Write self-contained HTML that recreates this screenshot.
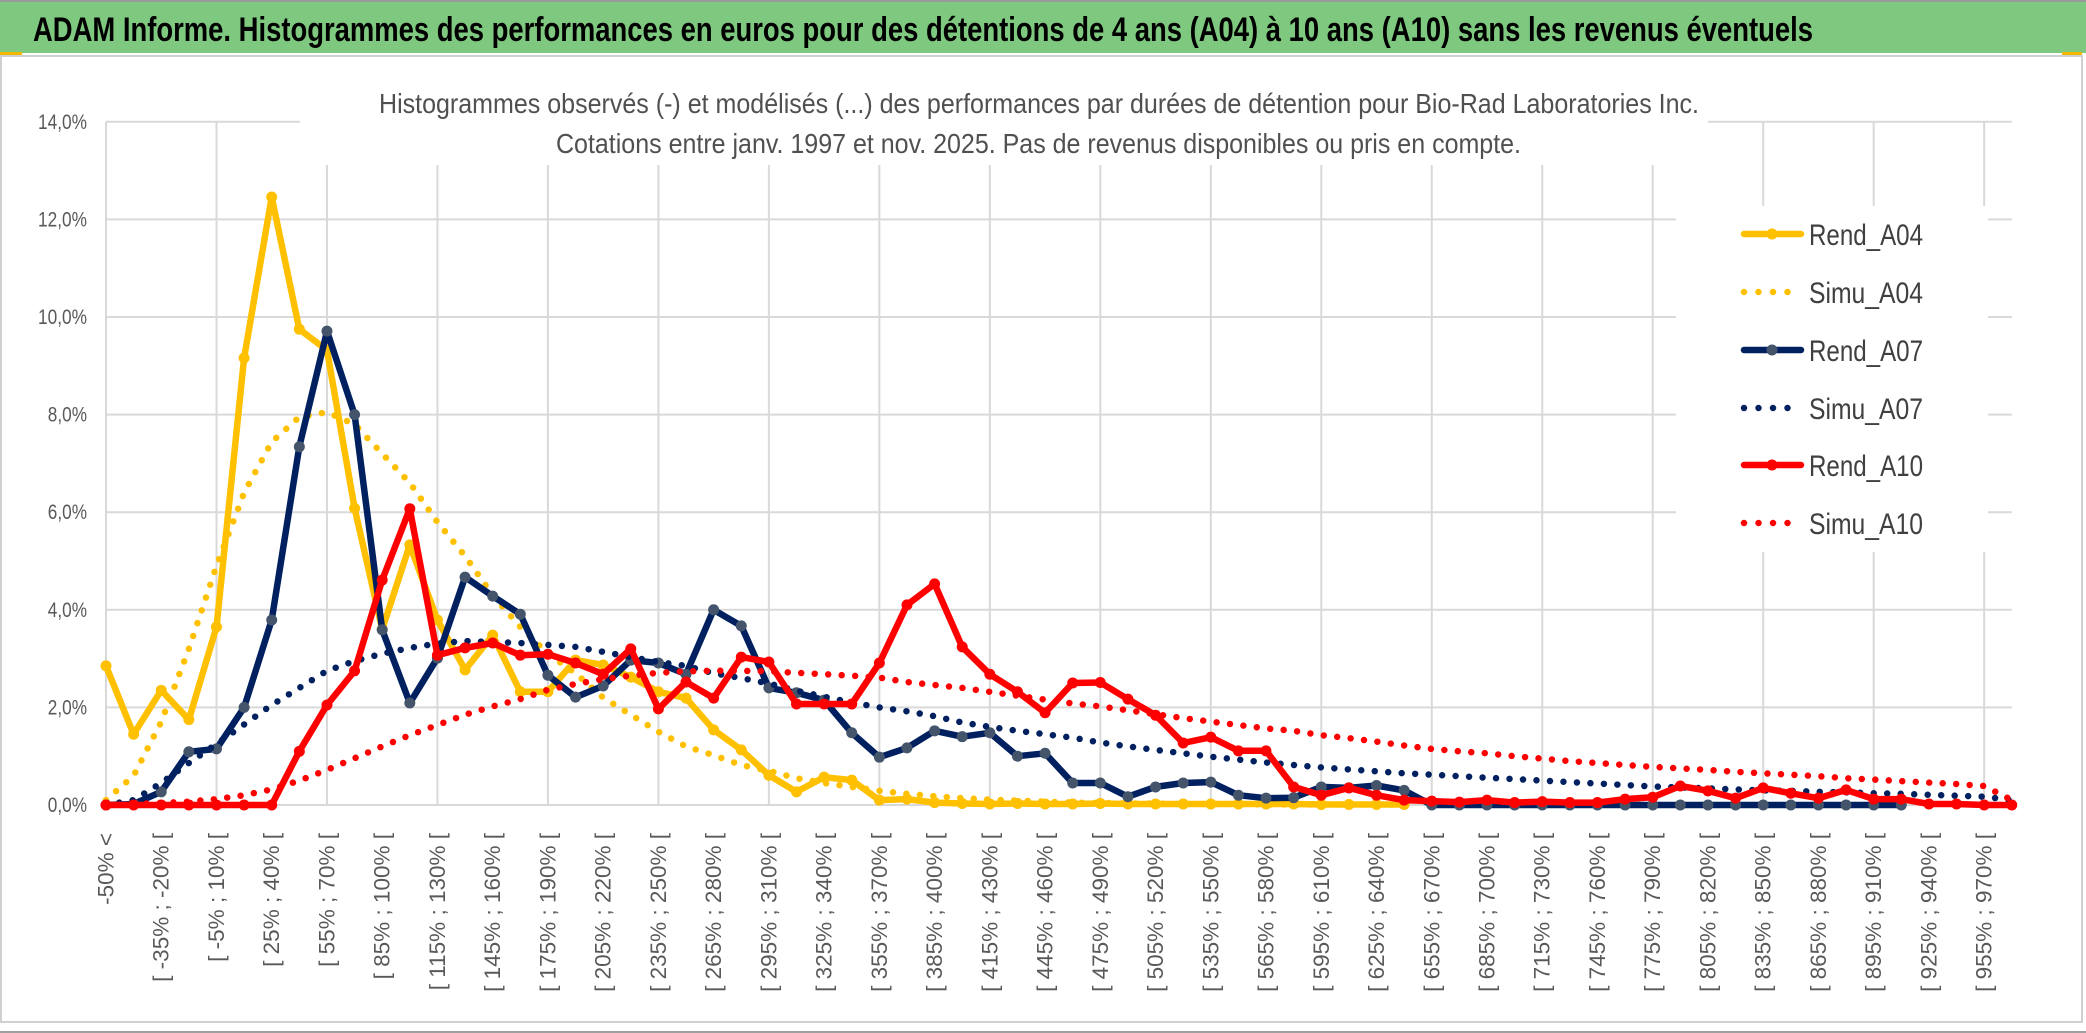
<!DOCTYPE html>
<html><head><meta charset="utf-8"><style>
html,body{margin:0;padding:0;background:#fff;}
svg{display:block;font-family:"Liberation Sans",sans-serif;}
</style></head><body>
<svg id="chart" width="2086" height="1033" viewBox="0 0 2086 1033" xmlns="http://www.w3.org/2000/svg">
<rect x="0" y="0" width="2086" height="1033" fill="#ffffff"/>
<rect x="0" y="1" width="2086" height="52" fill="#7ec97f"/>
<line x1="0" y1="1" x2="2086" y2="1" stroke="#9a9a9a" stroke-width="2"/>
<rect x="0" y="52" width="22" height="3" fill="#f5b800"/>
<text x="33" y="41" font-size="34" font-weight="bold" fill="#000" textLength="1780" lengthAdjust="spacingAndGlyphs">ADAM Informe. Histogrammes des performances en euros pour des détentions de 4 ans (A04) à 10 ans (A10) sans les revenus éventuels</text>
<rect x="1" y="56" width="2081" height="966" fill="none" stroke="#d0d0d0" stroke-width="2"/>
<line x1="0" y1="1032" x2="2086" y2="1032" stroke="#a0a0a0" stroke-width="2"/>
<rect x="2062" y="52" width="20" height="3" fill="#f5b800"/>
<g id="grid"></g>
<g id="masks">
<rect x="300" y="60" width="1408" height="105" fill="#fff"/>
<rect x="1676" y="206" width="312" height="346" fill="#fff"/>
</g>
<text x="379" y="113" font-size="28" fill="#505050" textLength="1320" lengthAdjust="spacingAndGlyphs">Histogrammes observés (-) et modélisés (...) des performances par durées de détention pour Bio-Rad Laboratories Inc.</text>
<text x="556" y="153" font-size="28" fill="#505050" textLength="965" lengthAdjust="spacingAndGlyphs">Cotations entre janv. 1997 et nov. 2025. Pas de revenus disponibles ou pris en compte.</text>
<g id="yaxis"></g>
<g id="xaxis"></g>
<g id="series"></g>
<g id="legend"></g>
</svg>
<script>
const yTicks = [0, 2, 4, 6, 8, 10, 12, 14];
const rendA04 = [2.85,1.45,2.35,1.75,3.65,9.16,12.46,9.75,9.32,6.08,3.6,5.33,3.79,2.77,3.48,2.32,2.32,2.97,2.87,2.62,2.32,2.19,1.54,1.13,0.61,0.27,0.57,0.51,0.1,0.12,0.05,0.03,0.02,0.03,0.02,0.02,0.03,0.02,0.02,0.02,0.02,0.02,0.02,0.02,0.01,0.01,0.01,0.01];
const simuA04 = [0.1,0.6,1.7,3.2,4.9,6.4,7.44,7.95,8.05,7.8,7.2,6.6,5.8,5.1,4.3,3.65,3.1,2.7,2.2,1.85,1.5,1.2,1.02,0.82,0.7,0.55,0.45,0.37,0.29,0.23,0.18,0.14,0.11,0.09,0.07,0.05,0.04,0.03,0.03,0.02,0.02,0.02,0.01,0.01,0.01,0.01,0.01,0.01];
const rendA07 = [0,0.02,0.27,1.09,1.15,2.0,3.79,7.34,9.71,8.0,3.59,2.09,3.01,4.67,4.28,3.91,2.66,2.21,2.44,2.97,2.91,2.68,4.0,3.67,2.4,2.3,2.15,1.48,0.98,1.17,1.52,1.4,1.48,1.0,1.06,0.45,0.45,0.17,0.37,0.45,0.47,0.2,0.14,0.15,0.37,0.35,0.4,0.3,0,0,0,0,0,0,0,0,0,0,0,0,0,0,0,0,0,0];
const simuA07 = [0,0.1,0.45,0.86,1.25,1.65,2.05,2.4,2.75,2.95,3.1,3.22,3.31,3.36,3.34,3.32,3.28,3.24,3.14,3.03,2.93,2.85,2.7,2.6,2.49,2.34,2.22,2.1,2.0,1.92,1.82,1.69,1.6,1.52,1.45,1.38,1.28,1.2,1.13,1.06,0.99,0.93,0.87,0.82,0.77,0.73,0.69,0.65,0.62,0.59,0.56,0.53,0.5,0.47,0.44,0.41,0.38,0.36,0.34,0.32,0.3,0.29,0.27,0.26,0.24,0.23,0.21,0.19,0.17,0.1];
const rendA10 = [0,0,0,0,0,0,0,1.1,2.05,2.75,4.61,6.07,3.07,3.22,3.32,3.07,3.09,2.91,2.68,3.2,1.97,2.52,2.19,3.03,2.93,2.07,2.07,2.07,2.91,4.1,4.53,3.24,2.68,2.32,1.89,2.5,2.51,2.17,1.84,1.27,1.39,1.11,1.11,0.37,0.2,0.35,0.2,0.1,0.08,0.06,0.1,0.05,0.07,0.05,0.05,0.12,0.16,0.39,0.29,0.14,0.35,0.24,0.14,0.31,0.12,0.12,0.02,0.02,0,0];
const simuA10 = [0,0.02,0.04,0.07,0.12,0.2,0.32,0.5,0.72,0.96,1.2,1.43,1.64,1.85,2.02,2.17,2.36,2.48,2.58,2.65,2.71,2.74,2.75,2.75,2.74,2.71,2.68,2.65,2.61,2.52,2.46,2.4,2.32,2.24,2.16,2.08,2.02,1.94,1.86,1.78,1.71,1.64,1.57,1.52,1.43,1.37,1.3,1.22,1.15,1.1,1.06,1.0,0.95,0.9,0.86,0.82,0.78,0.75,0.72,0.68,0.65,0.62,0.59,0.55,0.52,0.49,0.46,0.43,0.39,0.1];
const categories = ["-50% <"];
for (let lo = -50; lo <= 970; lo += 15) categories.push("[ " + lo + "% ; " + (lo + 15) + "% [");

const NS = "http://www.w3.org/2000/svg";
const X0 = 106, STEP = 27.62, Y0 = 805, PX_PER_PCT = 48.8;
function xPos(i){ return X0 + i * STEP; }
function yPos(v){ return Y0 - v * PX_PER_PCT; }
function mk(tag, attrs, parent){
  const e = document.createElementNS(NS, tag);
  for (const k in attrs) e.setAttribute(k, attrs[k]);
  parent.appendChild(e); return e;
}
const grid = document.getElementById('grid');
const xRight = xPos(categories.length - 1);
yTicks.forEach(t => {
  if (t === 0) return;
  const l = mk('line', {x1: X0, x2: xRight, y1: yPos(t), y2: yPos(t), stroke: '#d9d9d9', 'stroke-width': 2}, grid);
  
  
});
for (let i = 0; i < categories.length; i += 4) {
  const l = mk('line', {x1: xPos(i), x2: xPos(i), y1: yPos(14), y2: Y0, stroke: '#d9d9d9', 'stroke-width': 2}, grid);
  
  
}
const base = mk('line', {x1: X0, x2: xRight, y1: Y0, y2: Y0, stroke: '#d9d9d9', 'stroke-width': 2}, grid);



const yaxis = document.getElementById('yaxis');
yTicks.forEach(t => {
  const s = t.toFixed(1).replace('.', ',') + '%';
  const tx = mk('text', {x: 87, y: yPos(t) + 7, 'text-anchor': 'end', 'font-size': 21, fill: '#595959', textLength: s.length * 9.8, lengthAdjust: 'spacingAndGlyphs'}, yaxis);
  tx.textContent = s;
  
  
});
const xaxis = document.getElementById('xaxis');
for (let i = 0; i < categories.length; i += 2) {
  const x = xPos(i), y = 833;
  const tx = mk('text', {x: x, y: y, 'text-anchor': 'end', 'dominant-baseline': 'central', 'font-size': 22.5, fill: '#595959', transform: 'rotate(-90 ' + x + ' ' + y + ')'}, xaxis);
  tx.textContent = categories[i];
  
  
}

const seriesDefs = [
  {name: 'Rend_A04', data: rendA04, color: '#FFC000', dotted: false, marker: '#FFC000'},
  {name: 'Simu_A04', data: simuA04, color: '#FFC000', dotted: true},
  {name: 'Rend_A07', data: rendA07, color: '#002060', dotted: false, marker: '#44546A'},
  {name: 'Simu_A07', data: simuA07, color: '#002060', dotted: true},
  {name: 'Rend_A10', data: rendA10, color: '#FF0000', dotted: false, marker: '#FF0000'},
  {name: 'Simu_A10', data: simuA10, color: '#FF0000', dotted: true}
];
const sl = document.getElementById('series');
seriesDefs.forEach(s => {
  const g = mk('g', {}, sl);
  
  
  const pts = s.data.map((v, i) => xPos(i).toFixed(1) + ',' + yPos(v).toFixed(1)).join(' ');
  const attrs = {points: pts, fill: 'none', stroke: s.color, 'stroke-linejoin': 'round', 'stroke-linecap': 'round'};
  if (s.dotted) { attrs['stroke-width'] = 6.5; attrs['stroke-dasharray'] = '0 13.5'; }
  else attrs['stroke-width'] = 6.5;
  const pl = mk('polyline', attrs, g);
  
  
  if (!s.dotted) {
    s.data.forEach((v, i) => {
      const c = mk('circle', {cx: xPos(i), cy: yPos(v), r: 5.5, fill: s.marker}, g);
      
      
    });
  }
});

const legend = document.getElementById('legend');
const legY = [234, 292, 350, 408, 465, 523];
seriesDefs.forEach((s, k) => {
  const g = mk('g', {}, legend);
  
  
  const y = legY[k];
  const ln = mk('line', {x1: 1744, x2: 1801, y1: y, y2: y, stroke: s.color, 'stroke-width': 6.5, 'stroke-linecap': 'round'}, g);
  if (s.dotted) ln.setAttribute('stroke-dasharray', '0 14.5');
  if (!s.dotted) mk('circle', {cx: 1772, cy: y, r: 5.5, fill: s.marker}, g);
  const t = mk('text', {x: 1809, y: y + 11, 'font-size': 30, fill: '#404040', textLength: 114, lengthAdjust: 'spacingAndGlyphs'}, g);
  t.textContent = s.name;
});
</script>
</body></html>
